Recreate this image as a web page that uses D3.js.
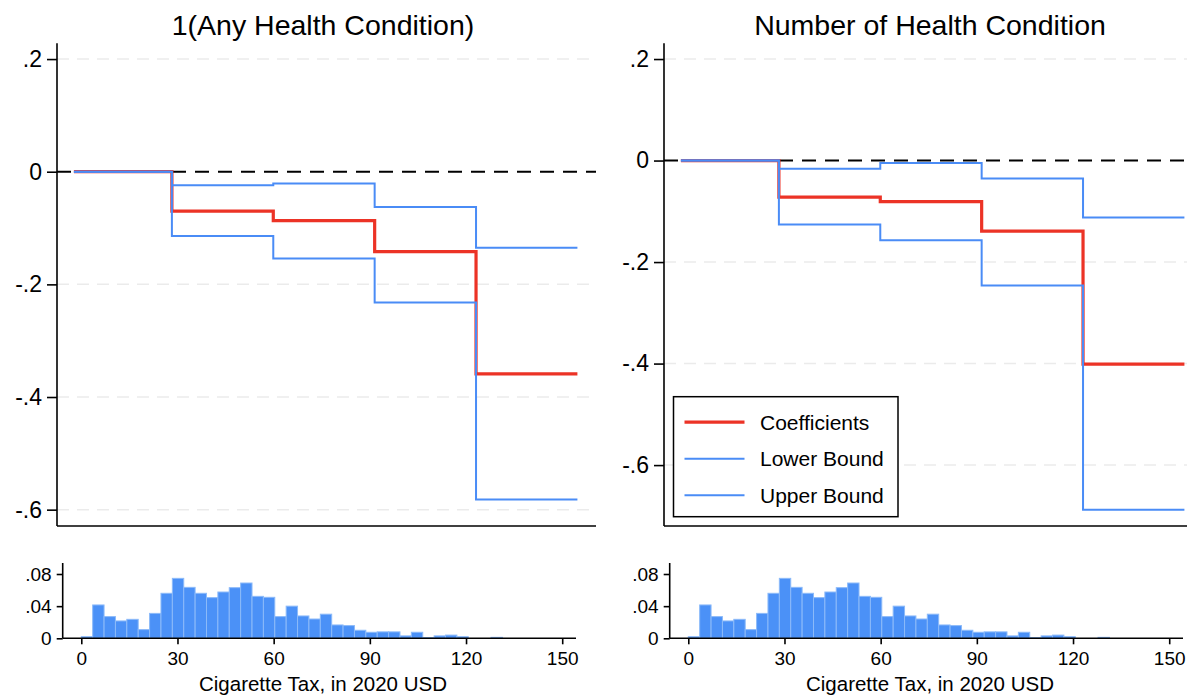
<!DOCTYPE html>
<html>
<head>
<meta charset="utf-8">
<script src="https://cdn.jsdelivr.net/npm/d3@7"></script>
<style>
  body { margin: 0; background: #fff; }
  svg { display: block; font-family: "Liberation Sans", Arial, Helvetica, sans-serif; }
</style>
</head>
<body>
<svg id="chart" width="1187" height="696"></svg>
<script>
// step break points (cigarette tax, 2020 USD)
const taxSteps = [1, 30, 60, 90, 120, 150];

// 1(Any Health Condition)
const anyCoef  = [0, -0.070, -0.087, -0.142, -0.359];
const anyLower = [0, -0.114, -0.154, -0.232, -0.582];
const anyUpper = [0, -0.024, -0.021, -0.0625, -0.135];

// Number of Health Condition
const numCoef  = [0, -0.072, -0.081, -0.139, -0.401];
const numLower = [0, -0.126, -0.157, -0.246, -0.688];
const numUpper = [0, -0.016, -0.005, -0.0355, -0.112];

// histogram of tax (fraction per bin)
const histBinStart = 0;
const histBinWidth = 3.55;
const histShares = [0.002, 0.0415, 0.027, 0.0216, 0.0236, 0.0108, 0.031, 0.056, 0.0746, 0.0634,
                    0.056, 0.0506, 0.0576, 0.063, 0.0688, 0.0522, 0.051, 0.027, 0.040, 0.0278,
                    0.024, 0.030, 0.0166, 0.0158, 0.010, 0.0075, 0.008, 0.008, 0.003, 0.0075,
                    0.001, 0.003, 0.004, 0.002, 0, 0, 0.0012];

const yTicksTop = [0.2, 0, -0.2, -0.4, -0.6];
const xTicksHist = [0, 30, 60, 90, 120, 150];
const yTicksHist = [0, 0.04, 0.08];
const legendLabels = ["Coefficients", "Lower Bound", "Upper Bound"];

const RED = "#ec3326", BLUE = "#4a8cf6";
const svg = d3.select("#chart");
svg.append("rect").attr("width", 1187).attr("height", 696).attr("fill", "#fff");

const fmtTop = v => v === 0 ? "0" : String(v).replace("0.", ".");

function drawPanel(dx, title, coef, lower, upper, yDomain, withLegend) {
    const g = svg.append("g").attr("transform", `translate(${dx},0)`);
    const x = d3.scaleLinear().domain([-4, 155.5]).range([57, 596]);
    const y = d3.scaleLinear().domain(yDomain).range([526, 43.3]);

    // gridlines
    g.selectAll(".grid")
        .data(yTicksTop.filter(d => d !== 0))
        .join("line")
        .attr("x1", x.range()[0]).attr("x2", x.range()[1])
        .attr("y1", d => y(d)).attr("y2", d => y(d))
        .attr("stroke", "#ebebeb").attr("stroke-width", 1.5)
        .attr("stroke-dasharray", "12,8");

    // zero reference line
    g.append("line")
        .attr("x1", x.range()[0]).attr("x2", x.range()[1])
        .attr("y1", y(0)).attr("y2", y(0))
        .attr("stroke", "#000").attr("stroke-width", 2)
        .attr("stroke-dasharray", "14,9");

    // y axis
    const yAxis = g.append("g")
        .attr("transform", `translate(${x.range()[0]},0)`)
        .call(d3.axisLeft(y).tickValues(yTicksTop).tickFormat(fmtTop).tickSize(10).tickPadding(5));
    yAxis.select(".domain").attr("stroke-width", 1.6).attr("d", `M0,${y.range()[0]}V${y.range()[1]}`);
    yAxis.selectAll(".tick line").attr("stroke-width", 1.6);
    yAxis.selectAll("text").attr("font-size", 23).attr("fill", "#000");

    // bottom axis line (no ticks)
    g.append("line")
        .attr("x1", x.range()[0]).attr("x2", x.range()[1])
        .attr("y1", y.range()[0]).attr("y2", y.range()[0])
        .attr("stroke", "#000").attr("stroke-width", 1.6);

    const line = d3.line()
        .x(d => x(d[0])).y(d => y(d[1]))
        .curve(d3.curveStepAfter);
    const steps = vals => taxSteps.map((t, i) => [t, vals[Math.min(i, vals.length - 1)]]);

    [[coef, RED, 3.2], [lower, BLUE, 2], [upper, BLUE, 2]].forEach(([vals, col, w]) => {
        g.append("path")
            .attr("d", line(steps(vals)))
            .attr("fill", "none")
            .attr("stroke", col)
            .attr("stroke-width", w);
    });

    g.append("text")
        .attr("x", 323).attr("y", 35)
        .attr("text-anchor", "middle")
        .attr("font-size", 28.5)
        .text(title);

    if (withLegend) {
        const lg = g.append("g").attr("transform", "translate(66.5,396.7)");
        lg.append("rect")
            .attr("width", 224.5).attr("height", 120)
            .attr("fill", "#fff").attr("stroke", "#000").attr("stroke-width", 1.5);
        legendLabels.forEach((lab, i) => {
            const cy = 25.5 + i * 36.5;
            lg.append("line")
                .attr("x1", 11).attr("x2", 71).attr("y1", cy).attr("y2", cy)
                .attr("stroke", i === 0 ? RED : BLUE).attr("stroke-width", i === 0 ? 3.2 : 2);
            lg.append("text")
                .attr("x", 86.5).attr("y", cy).attr("dy", "0.36em")
                .attr("font-size", 21)
                .text(lab);
        });
    }
}

function drawHist(dx) {
    const g = svg.append("g").attr("transform", `translate(${dx},0)`);
    const x = d3.scaleLinear().domain([-5.8, 154.3]).range([62.7, 576]);
    const y = d3.scaleLinear().domain([0, 0.0937]).range([638.3, 563]);

    g.selectAll(".bar")
        .data(histShares)
        .join("rect")
        .attr("x", (d, i) => x(histBinStart + i * histBinWidth))
        .attr("width", x(histBinWidth) - x(0))
        .attr("y", d => y(d))
        .attr("height", d => y(0) - y(d))
        .attr("fill", "#4b91f7")
        .attr("stroke", d => d > 0 ? "#8cbaf9" : "none")
        .attr("stroke-width", 1);

    const yAxis = g.append("g")
        .attr("transform", `translate(${x.range()[0]},0)`)
        .call(d3.axisLeft(y).tickValues(yTicksHist)
            .tickFormat(v => v === 0 ? "0" : d3.format(".2f")(v).replace("0.", "."))
            .tickSize(6).tickPadding(5));
    yAxis.select(".domain").attr("stroke-width", 1.6).attr("d", `M0,${y.range()[0]}V${y.range()[1]}`);

    const xAxis = g.append("g")
        .attr("transform", `translate(0,${y.range()[0]})`)
        .call(d3.axisBottom(x).tickValues(xTicksHist).tickSize(6).tickPadding(7));
    xAxis.select(".domain").attr("stroke-width", 1.6).attr("d", `M${x.range()[0]},0H${x.range()[1]}`);

    [yAxis, xAxis].forEach(a => {
        a.selectAll(".tick line").attr("stroke-width", 1.6);
        a.selectAll("text").attr("font-size", 19).attr("fill", "#000");
    });

    g.append("text")
        .attr("x", 323).attr("y", 691)
        .attr("text-anchor", "middle")
        .attr("font-size", 20.5)
        .text("Cigarette Tax, in 2020 USD");
}

drawPanel(0, "1(Any Health Condition)", anyCoef, anyLower, anyUpper, [-0.629, 0.228], false);
drawPanel(607, "Number of Health Condition", numCoef, numLower, numUpper, [-0.72, 0.231], true);
drawHist(0);
drawHist(607);
</script>
</body>
</html>
